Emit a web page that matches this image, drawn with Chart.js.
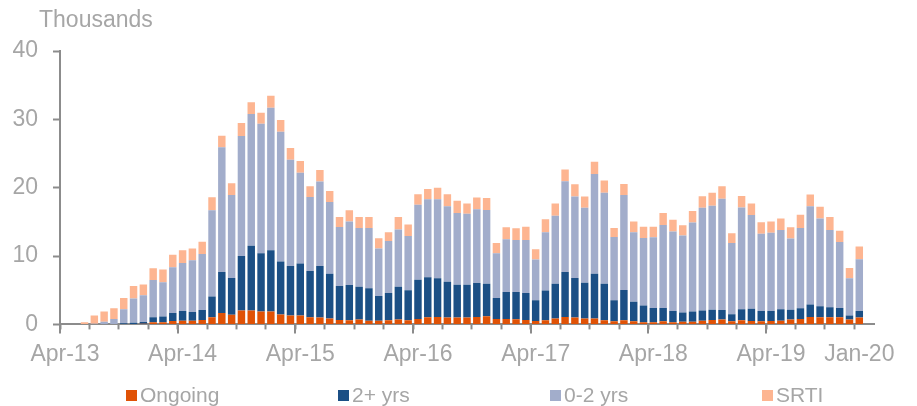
<!DOCTYPE html>
<html>
<head>
<meta charset="utf-8">
<script src="https://cdn.jsdelivr.net/npm/chart.js@4"></script>
<style>
  html, body { margin: 0; padding: 0; background: #fff; }
  #wrap { position: relative; width: 917px; height: 406px; }
  #legend { position: absolute; left: 126px; top: 382px; display: flex;
            font: 21px "Liberation Sans", Arial, sans-serif; color: #a6a6a6; line-height: 26px; }
  #legend .item { display: flex; align-items: center; width: 212px; }
  #legend .box { width: 11px; height: 11px; margin-right: 3px; }
</style>
</head>
<body>
<div id="wrap">
  <canvas id="mychart" width="917" height="406"></canvas>
  <div id="legend"></div>
</div>
<script>
// monthly, Apr-13 .. Feb-20 (last category is empty)
var months = [];
var monNames = ['Jan','Feb','Mar','Apr','May','Jun','Jul','Aug','Sep','Oct','Nov','Dec'];
for (var i = 0; i < 83; i++) {
    var m = (3 + i) % 12;
    var y = 13 + Math.floor((3 + i) / 12);
    months.push(monNames[m] + '-' + y);
}
var tickLabels = ['Apr-13','Apr-14','Apr-15','Apr-16','Apr-17','Apr-18','Apr-19','Jan-20'];

// thousands, rows are Apr..Mar
var ongoing = [
    0,0,0,0,0,0,0,0.05,0.1,0.3,0.3,0.5,
    0.55,0.55,0.65,1.05,1.65,1.4,2.05,2.05,1.9,1.9,1.45,1.3,
    1.3,1.05,1.0,0.85,0.65,0.6,0.7,0.55,0.55,0.6,0.7,0.6,
    0.8,1.05,1.1,1.0,1.0,1.0,1.1,1.2,0.8,0.8,0.75,0.65,
    0.5,0.6,0.85,1.1,1.0,0.85,0.85,0.6,0.45,0.6,0.45,0.3,
    0.3,0.45,0.3,0.4,0.4,0.55,0.65,0.7,0.45,0.6,0.5,0.45,
    0.5,0.55,0.7,0.8,1.1,1.05,1.05,1.05,0.7,1.0,null
];
var twoPlus = [
    0,0,0,0,0,0,0.15,0.2,0.25,0.75,0.85,1.15,
    1.4,1.25,1.45,3.05,6.0,5.4,7.95,9.45,8.5,8.95,7.75,7.25,
    7.6,6.75,7.55,6.55,4.95,5.15,4.8,4.75,3.6,4.0,4.8,4.4,
    5.75,5.85,5.65,5.25,4.8,4.8,4.95,4.75,3.05,3.95,4.0,3.95,
    3.05,4.35,5.1,6.55,5.8,5.25,6.55,5.35,3.1,4.45,2.85,2.45,
    2.1,1.95,1.65,1.35,1.5,1.5,1.5,1.4,1.05,1.6,1.8,1.5,
    1.45,1.65,1.45,1.55,1.8,1.6,1.45,1.35,0.6,0.95,null
];
var zeroTwo = [
    0,0,0,0.1,0.4,0.8,2.05,3.55,3.9,5.45,5.0,6.7,
    7.05,7.6,8.2,12.6,18.25,12.15,17.55,19.3,18.95,20.85,19.0,15.55,
    13.3,10.85,12.35,10.5,8.65,9.3,8.6,8.8,6.95,7.6,8.4,7.95,
    10.95,11.4,11.55,11.05,10.5,10.4,10.8,10.8,6.55,7.7,7.6,7.75,
    5.95,8.55,9.95,13.3,11.9,10.95,14.6,13.3,9.25,13.9,10.2,9.9,
    10.35,12.15,11.65,11.25,13.0,15.0,15.2,16.3,10.4,14.9,13.7,11.3,
    11.45,11.6,10.4,11.75,14.4,12.85,11.3,9.65,5.45,7.6,null
];
var srti = [
    0,0,0.3,1.2,1.5,1.55,1.65,1.8,1.6,1.7,1.9,1.85,
    1.85,1.7,1.8,1.9,1.7,1.7,1.9,1.7,1.6,1.75,1.7,1.7,
    1.7,1.55,1.7,1.6,1.45,1.65,1.6,1.6,1.5,1.3,1.8,1.65,
    1.55,1.5,1.7,1.75,1.8,1.5,1.7,1.75,1.5,1.75,1.7,1.95,
    1.5,1.9,1.8,1.7,1.8,1.65,1.8,1.8,1.3,1.6,1.55,1.65,
    1.55,1.75,1.7,1.5,1.7,1.7,1.9,1.8,1.45,1.7,1.7,1.7,
    1.65,1.7,1.65,1.95,1.7,1.7,1.9,1.65,1.5,1.85,null
];

var seriesNames = ['Ongoing', '2+ yrs', '0-2 yrs', 'SRTI'];
var seriesColors = ['#e05206', '#1b4f85', '#a2adcb', '#fdb591'];
var seriesData = [ongoing, twoPlus, zeroTwo, srti];

var GREY = '#a6a6a6';
var AXIS = '#8c8c8c';
var FONT = '"Liberation Sans", Arial, sans-serif';

var unitLabel = {
    id: 'unitLabel',
    afterDraw: function(chart) {
        var ctx = chart.ctx;
        var area = chart.chartArea;
        var xs = chart.scales.x;
        ctx.save();
        ctx.fillStyle = GREY;
        ctx.font = '23px ' + FONT;
        ctx.textBaseline = 'middle';
        ctx.fillText('Thousands', area.left - 21, 21);
        // longer ticks at each April
        var step = xs.getPixelForValue(1) - xs.getPixelForValue(0);
        ctx.strokeStyle = AXIS;
        ctx.lineWidth = 2;
        for (var i = 0; i < months.length; i += 12) {
            var x = Math.round(xs.getPixelForValue(i) - step / 2);
            ctx.beginPath();
            ctx.moveTo(x, area.bottom);
            ctx.lineTo(x, area.bottom + 9);
            ctx.stroke();
        }
        ctx.restore();
    }
};

var datasets = seriesNames.map(function(name, k) {
    return {
        label: name,
        data: seriesData[k],
        backgroundColor: seriesColors[k],
        borderWidth: 0,
        barPercentage: 0.76,
        categoryPercentage: 1.0
    };
});

var chart = new Chart(document.getElementById('mychart'), {
    type: 'bar',
    data: { labels: months, datasets: datasets },
    options: {
        responsive: false,
        animation: false,
        layout: { autoPadding: false, padding: { left: 12, right: 43, top: 51, bottom: 27 } },
        plugins: {
            legend: { display: false },
            tooltip: { enabled: false }
        },
        scales: {
            x: {
                stacked: true,
                afterFit: function(scale) { scale.paddingLeft = 0; scale.paddingRight = 0; },
                grid: {
                    drawOnChartArea: false,
                    tickLength: 5,
                    tickWidth: 2,
                    tickColor: function(c) { return c.index % 3 === 0 ? AXIS : 'rgba(0,0,0,0)'; }
                },
                border: { color: AXIS, width: 2 },
                ticks: {
                    autoSkip: false,
                    maxRotation: 0,
                    padding: 11,
                    color: GREY,
                    font: { family: FONT, size: 23 },
                    callback: function(v, i) {
                        var l = months[i];
                        return tickLabels.indexOf(l) >= 0 ? l : '';
                    }
                }
            },
            y: {
                stacked: true,
                min: 0,
                max: 40,
                afterFit: function(scale) { scale.width = 48; },
                grid: { drawOnChartArea: false, tickLength: 7, tickWidth: 2, tickColor: AXIS },
                border: { color: AXIS, width: 2 },
                ticks: {
                    stepSize: 10,
                    padding: 15,
                    color: GREY,
                    font: { family: FONT, size: 23 }
                }
            }
        }
    },
    plugins: [unitLabel]
});

// legend below the chart
var $legend = document.getElementById('legend');
seriesNames.forEach(function(name, k) {
    var item = document.createElement('div');
    item.className = 'item';
    var box = document.createElement('span');
    box.className = 'box';
    box.style.background = seriesColors[k];
    item.appendChild(box);
    item.appendChild(document.createTextNode(name));
    $legend.appendChild(item);
});
</script>
</body>
</html>
